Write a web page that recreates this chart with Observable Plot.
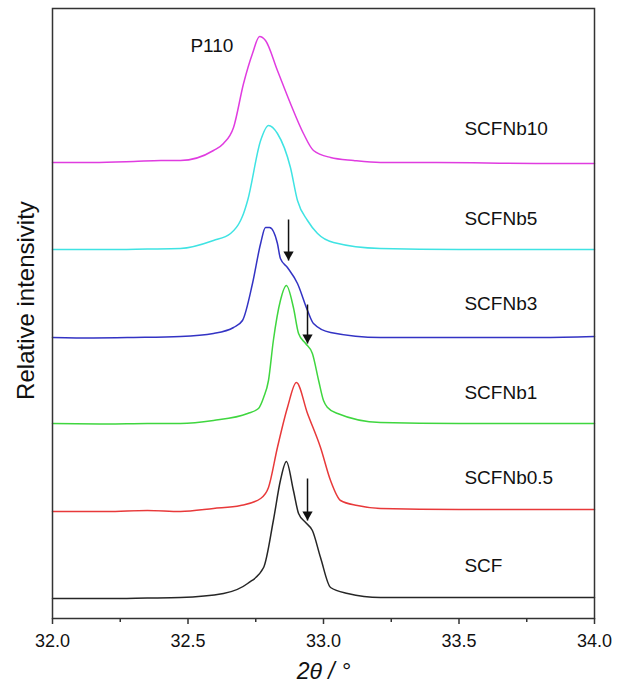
<!DOCTYPE html>
<html><head><meta charset="utf-8">
<script src="https://cdn.jsdelivr.net/npm/d3@7"></script>
<script src="https://cdn.jsdelivr.net/npm/@observablehq/plot@0.6"></script>
<style>body{margin:0;background:#fff}</style>
</head><body><div id="chart"></div>
<script>
const seriesNames = ["SCF", "SCFNb0.5", "SCFNb1", "SCFNb3", "SCFNb5", "SCFNb10"];
const seriesColors = ["#262626", "#e8393a", "#3fd63f", "#3333c4", "#3fe3e3", "#e03ce0"];

// [2θ, relative intensity (arbitrary, stacked)]
const scf = [[32.00,20],[32.20,20],[32.35,20.5],[32.472,21],[32.631,25],[32.720,35],[32.779,51],[32.815,98],[32.841,138],[32.863,157],[32.889,128],[32.908,105],[32.934,96],[32.959,88],[32.989,61],[33.026,31],[33.089,25],[33.210,21],[33.50,21],[33.80,21],[34.00,21]];
const scfNb05 = [[32.00,107],[32.20,107],[32.35,108],[32.472,107],[32.594,110],[32.694,113],[32.768,120],[32.797,131],[32.830,171],[32.867,211],[32.900,236],[32.941,205],[32.989,171],[33.026,138],[33.063,118],[33.125,113],[33.210,110],[33.50,109],[33.80,109],[34.00,109]];
const scfNb1 = [[32.00,195],[32.20,194.5],[32.35,195],[32.472,195],[32.594,198],[32.720,205],[32.760,210],[32.779,221],[32.797,238],[32.815,278],[32.841,318],[32.863,333],[32.889,311],[32.908,285],[32.934,275],[32.959,265],[32.982,238],[33.000,218],[33.015,211],[33.052,205],[33.210,196],[33.50,195],[33.80,195],[34.00,195]];
const scfNb3 = [[32.00,281],[32.15,280.5],[32.30,281],[32.472,282],[32.594,285],[32.668,291],[32.701,298],[32.738,335],[32.768,375],[32.786,391],[32.801,391],[32.830,375],[32.841,360],[32.867,351],[32.904,335],[32.941,308],[32.963,295],[33.026,286],[33.210,281],[33.50,281],[33.80,281],[34.00,282]];
const scfNb5 = [[32.00,369],[32.20,369],[32.35,369.5],[32.472,370],[32.594,378],[32.657,385],[32.694,398],[32.705,405],[32.720,418],[32.768,478],[32.797,493],[32.830,485],[32.878,451],[32.904,418],[32.941,398],[32.978,385],[33.037,376],[33.210,370],[33.50,369],[33.80,369],[34.00,369]];
const scfNb10 = [[32.00,456],[32.15,456],[32.30,457],[32.40,458],[32.472,458],[32.594,468],[32.631,475],[32.668,491],[32.705,535],[32.738,565],[32.764,582],[32.786,578],[32.830,548],[32.878,515],[32.926,485],[32.963,468],[33.026,461],[33.111,458],[33.210,456],[33.40,456],[33.60,455.5],[33.80,455],[34.00,455]];
const allSeries = [scf, scfNb05, scfNb1, scfNb3, scfNb5, scfNb10];

const labelX = 33.52;
const labelY = [53, 141, 226, 315, 400, 490];
const peakLabel = "P110";
const peakX = 32.509;
const peakY = 573;
const arrowX = [32.871, 32.941, 32.941];
const arrowY1 = [399, 314, 140];
const arrowY2 = [358, 275, 98];
const majorTicks = [32.0, 32.5, 33.0, 33.5, 34.0];
const minorTicks = [32.25, 32.75, 33.25, 33.75];
const xLabel = "2θ / °";
const yLabel = "Relative intensivity";
const yLabelX = 31.903;
const yLabelY = 318;

const rows = [];
allSeries.forEach((s, i) => s.forEach(([x, y]) => rows.push({name: seriesNames[i], x, y})));
const labelRows = seriesNames.map((n, i) => ({name: n, x: labelX, y: labelY[i]}));
const arrows = arrowX.map((x, i) => ({x, y1: arrowY1[i], y2: arrowY2[i]}));

const chart = Plot.plot({
  width: 617, height: 691,
  marginLeft: 52, marginRight: 23, marginTop: 8, marginBottom: 73,
  x: {domain: [32, 34]},
  y: {domain: [0, 610], axis: null},
  color: {domain: seriesNames, range: seriesColors},
  style: {fontFamily: "'Liberation Sans', Arial, sans-serif", background: "white", color: "#111"},
  marks: [
    Plot.line(rows, {x: "x", y: "y", z: "name", stroke: "name", strokeWidth: 1.5, curve: "monotone-x"}),
    Plot.frame({stroke: "#333", strokeWidth: 1.5}),
    Plot.axisX({ticks: majorTicks, tickSize: 6, tickPadding: 10, tickFormat: d3.format(".1f"), fontSize: 18, label: null, stroke: "#333", strokeWidth: 1.5}),
    Plot.axisX({ticks: minorTicks, tickSize: 4, tickFormat: () => "", label: null, stroke: "#333", strokeWidth: 1.5}),
    Plot.text(labelRows, {x: "x", y: "y", text: "name", textAnchor: "start", fontSize: 19, fill: "#111"}),
    Plot.text([peakLabel], {x: peakX, y: peakY, text: d => d, textAnchor: "start", fontSize: 19, fill: "#111"}),
    Plot.link(arrows, {x1: "x", x2: "x", y1: "y1", y2: "y2", stroke: "#111", strokeWidth: 1.5}),
    Plot.dot(arrows, {x: "x", y: "y2", symbol: "triangle", rotate: 180, r: 3.8, fill: "#111", stroke: "none", dy: -6}),
    Plot.text([xLabel], {frameAnchor: "bottom", text: d => d, dy: 60, fontSize: 23, fontStyle: "italic", fill: "#111"}),
    Plot.text([yLabel], {x: yLabelX, y: yLabelY, text: d => d, rotate: -90, fontSize: 24, fill: "#111", clip: false})
  ]
});
document.getElementById("chart").appendChild(chart);
</script>
</body></html>
